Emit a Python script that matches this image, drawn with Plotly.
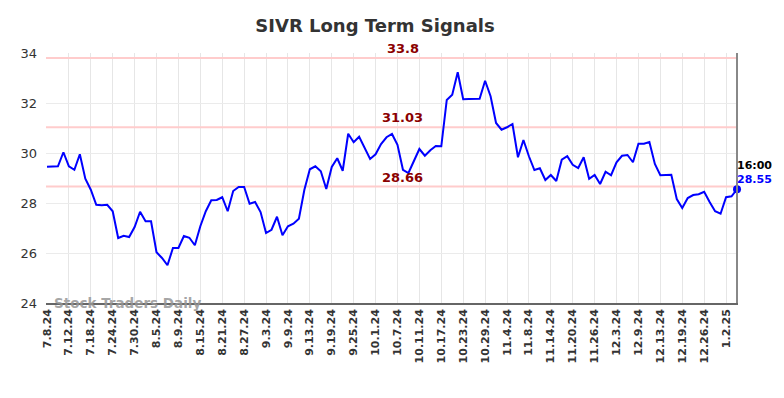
import pandas as pd
import plotly.graph_objects as go

holidays = ["2024-09-02", "2024-11-28", "2024-12-25", "2025-01-01"]
dates = pd.bdate_range("2024-07-08", "2025-01-06", freq="C", holidays=holidays)
date_keys = [f"{d.month}.{d.day}.{d.strftime('%y')}" for d in dates]

values = [
    29.45, 29.45, 29.47, 30.03, 29.47,
    29.33, 29.95, 28.97, 28.53, 27.93,
    27.91, 27.93, 27.67, 26.60, 26.69,
    26.64, 27.04, 27.65, 27.27, 27.27,
    26.03, 25.80, 25.51, 26.20, 26.20,
    26.68, 26.61, 26.31, 27.07, 27.67,
    28.11, 28.12, 28.23, 27.67, 28.48,
    28.64, 28.64, 27.97, 28.04, 27.64,
    26.80, 26.93, 27.45, 26.71,
    27.07, 27.17, 27.37, 28.53, 29.35,
    29.47, 29.27, 28.56, 29.44, 29.79,
    29.29, 30.77, 30.43, 30.65, 30.20,
    29.76, 29.95, 30.36, 30.63, 30.76,
    30.33, 29.33, 29.20, 29.69, 30.16,
    29.89, 30.11, 30.28, 30.27, 32.12,
    32.33, 33.23, 32.15, 32.16, 32.17,
    32.17, 32.89, 32.27, 31.20, 30.93,
    31.03, 31.16, 29.83, 30.52, 29.87,
    29.32, 29.39, 28.92, 29.12, 28.88,
    29.73, 29.87, 29.53, 29.40, 29.83,
    28.97, 29.12, 28.76, 29.25,
    29.11, 29.63, 29.89, 29.92, 29.63,
    30.37, 30.37, 30.44, 29.56, 29.11,
    29.13, 29.13, 28.16, 27.80, 28.20,
    28.32, 28.35, 28.45, 28.04,
    27.67, 27.57, 28.23, 28.27,
    28.55,
]

tick_labels = [
    "7.8.24", "7.12.24", "7.18.24", "7.24.24", "7.30.24", "8.5.24", "8.9.24",
    "8.15.24", "8.21.24", "8.27.24", "9.3.24", "9.9.24", "9.13.24", "9.19.24",
    "9.25.24", "10.1.24", "10.7.24", "10.11.24", "10.17.24", "10.23.24",
    "10.29.24", "11.4.24", "11.8.24", "11.14.24", "11.20.24", "11.26.24",
    "12.3.24", "12.9.24", "12.13.24", "12.19.24", "12.26.24", "1.2.25",
]

levels = [33.8, 31.03, 28.66]
level_labels = ["33.8", "31.03", "28.66"]
last_time = "16:00"
y_ticks = [24, 26, 28, 30, 32, 34]

x = list(range(len(values)))
tick_vals = [date_keys.index(t) for t in tick_labels]
last = len(values) - 1

W, H = 776, 390

fig = go.Figure()
for lv in levels:
    fig.add_trace(go.Scatter(x=[x[0] - 0.2, x[-1] + 0.2], y=[lv, lv], mode="lines",
                             line=dict(color="#ffcccc", width=2), hoverinfo="skip",
                             showlegend=False))
fig.add_trace(go.Scatter(x=x, y=values, mode="lines",
                         line=dict(color="#0000ff", width=2), showlegend=False))
fig.add_trace(go.Scatter(x=[x[last]], y=[values[last]], mode="markers",
                         marker=dict(color="#0000ff", size=8), showlegend=False,
                         cliponaxis=False))

for lv, lab in zip(levels, level_labels):
    fig.add_annotation(x=65, y=lv, xref="x", yref="y", text=f"<b>{lab}</b>",
                       showarrow=False, yanchor="bottom", yshift=0,
                       font=dict(family="DejaVu Sans", size=13, color="#8b0000"))

fig.add_annotation(x=x[last], y=values[last], xref="x", yref="y", text=f"<b>{last_time}</b>",
                   showarrow=False, xanchor="left", yanchor="middle", yshift=24, xshift=-2,
                   font=dict(family="DejaVu Sans", size=11, color="#000000"))
fig.add_annotation(x=x[last], y=values[last], xref="x", yref="y", text=f"<b>{values[last]:.2f}</b>",
                   showarrow=False, xanchor="left", yanchor="middle", yshift=10, xshift=-2,
                   font=dict(family="DejaVu Sans", size=11, color="#0000ff"))

fig.add_annotation(x=0.008, y=24, xref="paper", yref="y", text="<b>Stock Traders Daily</b>",
                   showarrow=False, xanchor="left", yanchor="middle",
                   font=dict(family="DejaVu Sans", size=13.5, color="rgba(150,150,150,0.85)"))

fig.add_shape(type="line", x0=x[last], x1=x[last], y0=0, y1=1, xref="x", yref="paper",
              line=dict(color="#888888", width=2))

fig.update_layout(
    width=W, height=H,
    margin=dict(l=32, r=46, t=45, b=95),
    paper_bgcolor="white", plot_bgcolor="white",
    title=dict(text="<b>SIVR Long Term Signals</b>", x=(375 - 8) / W, xanchor="center",
               y=1 - 18 / H, yanchor="middle", yref="container",
               font=dict(family="DejaVu Sans", size=18, color="#333333")),
    xaxis=dict(range=[-0.18, last + 0.18], tickmode="array", tickvals=tick_vals,
               ticktext=[f"<b>{t}</b>" for t in tick_labels], tickangle=-90,
               tickfont=dict(family="DejaVu Sans", size=11, color="#333333"),
               showgrid=True, gridcolor="#e6e6e6", gridwidth=1,
               showline=True, linecolor="#666666", linewidth=1.5,
               ticks="", zeroline=False),
    yaxis=dict(range=[24, 34], tickmode="array", tickvals=y_ticks,
               tickfont=dict(family="DejaVu Sans", size=13, color="#333333"),
               showgrid=True, gridcolor="#ebebeb", gridwidth=1,
               ticks="", zeroline=False, showline=False, ticklabelstandoff=8),
)

fig.write_html("out.html")
